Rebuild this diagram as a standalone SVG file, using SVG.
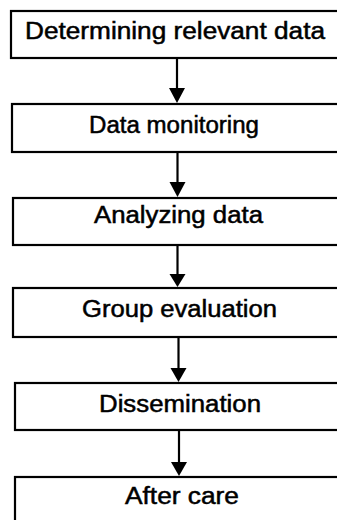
<svg xmlns="http://www.w3.org/2000/svg" width="337" height="520" viewBox="0 0 337 520">
<style>
.box{fill:#fff;stroke:#000;stroke-width:2.2}
.lbl{font-family:"Liberation Sans",Arial,sans-serif;font-size:23px;fill:#000;stroke:#000;stroke-width:0.5;text-anchor:middle}
.conn{stroke:#000;stroke-width:2.2;fill:none}
.head{fill:#000}
</style>
<rect width="337" height="520" fill="#fff"/>
<g id="n1"><rect class="box" x="11" y="11" width="332" height="47"/><text class="lbl" x="175" y="39" textLength="300" lengthAdjust="spacingAndGlyphs">Determining relevant data</text></g>
<g id="n2"><rect class="box" x="12" y="104" width="331" height="48"/><text class="lbl" x="174" y="133" textLength="170" lengthAdjust="spacingAndGlyphs">Data monitoring</text></g>
<g id="n3"><rect class="box" x="13" y="198" width="330" height="47"/><text class="lbl" x="178.5" y="223" textLength="169" lengthAdjust="spacingAndGlyphs">Analyzing data</text></g>
<g id="n4"><rect class="box" x="13" y="288" width="330" height="49"/><text class="lbl" x="179.5" y="317" textLength="195" lengthAdjust="spacingAndGlyphs">Group evaluation</text></g>
<g id="n5"><rect class="box" x="15" y="383" width="328" height="47"/><text class="lbl" x="180" y="412" textLength="162" lengthAdjust="spacingAndGlyphs">Dissemination</text></g>
<g id="n6"><rect class="box" x="15" y="477" width="328" height="60"/><text class="lbl" x="182" y="504" textLength="114" lengthAdjust="spacingAndGlyphs">After care</text></g>
<g id="connectors">
<line class="conn" x1="177" y1="59" x2="177" y2="90"/><polygon class="head" points="169,88 185,88 177,103"/>
<line class="conn" x1="177.5" y1="153" x2="177.5" y2="184"/><polygon class="head" points="169.5,182 185.5,182 177.5,197"/>
<line class="conn" x1="177.5" y1="246" x2="177.5" y2="276"/><polygon class="head" points="169.5,274 185.5,274 177.5,287"/>
<line class="conn" x1="178.5" y1="338" x2="178.5" y2="370"/><polygon class="head" points="170.5,368 186.5,368 178.5,382"/>
<line class="conn" x1="179" y1="431" x2="179" y2="464"/><polygon class="head" points="171,462 187,462 179,476"/>
</g>
</svg>
